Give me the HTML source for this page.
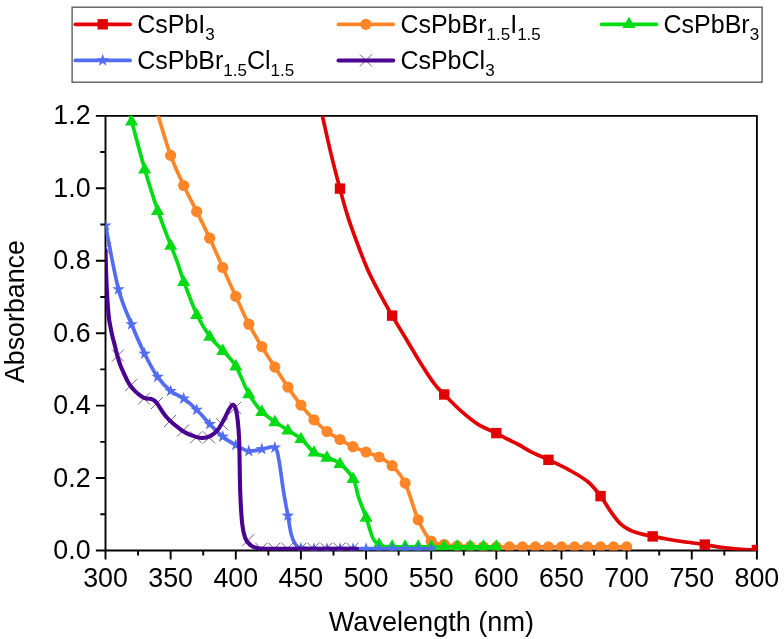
<!DOCTYPE html>
<html><head><meta charset="utf-8"><title>Absorbance</title>
<style>
html,body{margin:0;padding:0;background:#fff;}
body{width:784px;height:639px;overflow:hidden;}
svg{display:block;will-change:transform;}
text{font-family:"Liberation Sans",sans-serif;fill:#000;}
.tk{font-size:26.8px;}
.lg{font-size:25px;}
.sub{font-size:17px;}
</style></head><body>
<svg width="784" height="639" viewBox="0 0 784 639">
<rect x="0" y="0" width="784" height="639" fill="#fff"/>
<defs><clipPath id="cp"><rect x="105.50" y="115.85" width="651.40" height="434.65"/></clipPath></defs>

<g stroke="#000" stroke-width="1.9" fill="none" stroke-linejoin="round" stroke-linecap="butt">
<path d="M105.50,115.85 L756.90,115.85 L756.90,550.50 L105.50,550.50 Z"/>
<path d="M105.50,550.50 v9.00 M138.07,550.50 v5.00 M170.64,550.50 v9.00 M203.21,550.50 v5.00 M235.78,550.50 v9.00 M268.35,550.50 v5.00 M300.92,550.50 v9.00 M333.49,550.50 v5.00 M366.06,550.50 v9.00 M398.63,550.50 v5.00 M431.20,550.50 v9.00 M463.77,550.50 v5.00 M496.34,550.50 v9.00 M528.91,550.50 v5.00 M561.48,550.50 v9.00 M594.05,550.50 v5.00 M626.62,550.50 v9.00 M659.19,550.50 v5.00 M691.76,550.50 v9.00 M724.33,550.50 v5.00 M756.90,550.50 v9.00 M105.50,550.50 h-9.60 M105.50,514.28 h-5.20 M105.50,478.06 h-9.60 M105.50,441.84 h-5.20 M105.50,405.62 h-9.60 M105.50,369.40 h-5.20 M105.50,333.18 h-9.60 M105.50,296.95 h-5.20 M105.50,260.73 h-9.60 M105.50,224.51 h-5.20 M105.50,188.29 h-9.60 M105.50,152.07 h-5.20 M105.50,115.85 h-9.60"/>
</g>

<g clip-path="url(#cp)"><path d="M318.00,96.00 C318.73,99.31 320.30,106.50 322.40,115.85 C324.50,125.20 327.68,139.97 330.60,152.10 C333.52,164.22 337.13,178.18 339.90,188.60 C342.67,199.02 344.42,205.78 347.20,214.60 C349.98,223.42 353.20,232.37 356.60,241.50 C360.00,250.63 363.98,261.18 367.60,269.40 C371.22,277.62 374.22,283.10 378.30,290.80 C382.38,298.50 387.43,307.52 392.10,315.60 C396.77,323.68 401.38,331.10 406.30,339.30 C411.22,347.50 416.92,357.37 421.60,364.80 C426.28,372.23 430.63,378.95 434.40,383.90 C438.17,388.85 439.83,390.05 444.20,394.50 C448.57,398.95 454.88,405.58 460.60,410.60 C466.32,415.62 472.55,420.85 478.50,424.60 C484.45,428.35 491.33,430.62 496.30,433.10 C501.27,435.58 504.47,437.52 508.30,439.50 C512.13,441.48 515.58,442.98 519.30,445.00 C523.02,447.02 525.75,449.13 530.60,451.60 C535.45,454.07 541.78,456.63 548.40,459.80 C555.02,462.97 563.67,466.90 570.30,470.60 C576.93,474.30 583.15,477.75 588.20,482.00 C593.25,486.25 596.87,491.20 600.60,496.10 C604.33,501.00 607.23,506.72 610.60,511.40 C613.97,516.08 617.40,521.00 620.80,524.20 C624.20,527.40 627.60,528.98 631.00,530.60 C634.40,532.22 637.58,532.93 641.20,533.90 C644.82,534.87 648.45,535.55 652.70,536.40 C656.95,537.25 661.82,538.15 666.70,539.00 C671.58,539.85 677.75,540.87 682.00,541.50 C686.25,542.13 688.40,542.28 692.20,542.80 C696.00,543.32 700.53,543.92 704.80,544.60 C709.07,545.28 713.10,546.22 717.80,546.90 C722.50,547.58 728.47,548.27 733.00,548.70 C737.53,549.13 741.02,549.30 745.00,549.50 C748.98,549.70 754.92,549.83 756.90,549.90" fill="none" stroke="#e10004" stroke-width="3.7" stroke-linejoin="round" stroke-linecap="round"/><g fill="#e10004"><rect x="334.80" y="183.40" width="10.40" height="10.40"/><rect x="386.92" y="310.40" width="10.40" height="10.40"/><rect x="439.03" y="389.30" width="10.40" height="10.40"/><rect x="491.14" y="427.90" width="10.40" height="10.40"/><rect x="543.25" y="454.60" width="10.40" height="10.40"/><rect x="595.36" y="490.90" width="10.40" height="10.40"/><rect x="647.48" y="531.20" width="10.40" height="10.40"/><rect x="699.59" y="539.40" width="10.40" height="10.40"/><rect x="751.70" y="544.80" width="10.40" height="10.40"/></g></g>

<g clip-path="url(#cp)"><path d="M152.00,95.00 C153.03,98.47 155.09,105.78 158.20,115.85 C161.31,125.92 166.40,143.79 170.64,155.40 C174.88,167.01 179.33,176.15 183.67,185.50 C188.01,194.85 192.35,202.72 196.70,211.50 C201.04,220.28 205.38,228.87 209.72,238.20 C214.07,247.53 218.41,257.80 222.75,267.50 C227.09,277.20 231.44,286.95 235.78,296.40 C240.12,305.85 244.47,315.82 248.81,324.20 C253.15,332.58 257.49,339.55 261.84,346.70 C266.18,353.85 270.52,360.37 274.86,367.10 C279.21,373.83 283.55,380.77 287.89,387.10 C292.23,393.43 296.58,399.65 300.92,405.10 C305.26,410.55 309.61,415.40 313.95,419.80 C318.29,424.20 322.63,428.22 326.98,431.50 C331.32,434.78 335.66,436.97 340.00,439.50 C344.35,442.03 348.69,444.62 353.03,446.70 C357.37,448.78 361.72,450.28 366.06,452.00 C370.40,453.72 374.75,454.72 379.09,457.00 C383.43,459.28 387.77,461.35 392.12,465.70 C396.46,470.05 400.80,474.08 405.14,483.10 C409.49,492.12 413.83,510.12 418.17,519.80 C422.51,529.48 426.86,537.08 431.20,541.20 C435.54,545.32 439.89,543.72 444.23,544.50 C448.57,545.28 452.91,545.58 457.26,545.90 C461.60,546.22 465.94,546.25 470.28,546.40 C474.63,546.55 478.97,546.72 483.31,546.80 C487.65,546.88 492.00,546.88 496.34,546.90 C500.68,546.92 505.03,546.90 509.37,546.90 C513.71,546.90 518.05,546.90 522.40,546.90 C526.74,546.90 531.08,546.90 535.42,546.90 C539.77,546.90 544.11,546.90 548.45,546.90 C552.79,546.90 557.14,546.90 561.48,546.90 C565.82,546.90 570.17,546.90 574.51,546.90 C578.85,546.90 583.19,546.90 587.54,546.90 C591.88,546.90 596.22,546.90 600.56,546.90 C604.91,546.90 609.25,546.90 613.59,546.90 C617.93,546.90 624.45,546.90 626.62,546.90" fill="none" stroke="#ff8628" stroke-width="3.7" stroke-linejoin="round" stroke-linecap="round"/><g fill="#ff8628"><circle cx="170.64" cy="155.40" r="5.60"/><circle cx="183.67" cy="185.50" r="5.60"/><circle cx="196.70" cy="211.50" r="5.60"/><circle cx="209.72" cy="238.20" r="5.60"/><circle cx="222.75" cy="267.50" r="5.60"/><circle cx="235.78" cy="296.40" r="5.60"/><circle cx="248.81" cy="324.20" r="5.60"/><circle cx="261.84" cy="346.70" r="5.60"/><circle cx="274.86" cy="367.10" r="5.60"/><circle cx="287.89" cy="387.10" r="5.60"/><circle cx="300.92" cy="405.10" r="5.60"/><circle cx="313.95" cy="419.80" r="5.60"/><circle cx="326.98" cy="431.50" r="5.60"/><circle cx="340.00" cy="439.50" r="5.60"/><circle cx="353.03" cy="446.70" r="5.60"/><circle cx="366.06" cy="452.00" r="5.60"/><circle cx="379.09" cy="457.00" r="5.60"/><circle cx="392.12" cy="465.70" r="5.60"/><circle cx="405.14" cy="483.10" r="5.60"/><circle cx="418.17" cy="519.80" r="5.60"/><circle cx="431.20" cy="541.20" r="5.60"/><circle cx="444.23" cy="544.50" r="5.60"/><circle cx="457.26" cy="545.90" r="5.60"/><circle cx="470.28" cy="546.40" r="5.60"/><circle cx="483.31" cy="546.80" r="5.60"/><circle cx="496.34" cy="546.90" r="5.60"/><circle cx="509.37" cy="546.90" r="5.60"/><circle cx="522.40" cy="546.90" r="5.60"/><circle cx="535.42" cy="546.90" r="5.60"/><circle cx="548.45" cy="546.90" r="5.60"/><circle cx="561.48" cy="546.90" r="5.60"/><circle cx="574.51" cy="546.90" r="5.60"/><circle cx="587.54" cy="546.90" r="5.60"/><circle cx="600.56" cy="546.90" r="5.60"/><circle cx="613.59" cy="546.90" r="5.60"/><circle cx="626.62" cy="546.90" r="5.60"/></g></g>

<g clip-path="url(#cp)"><path d="M126.00,97.00 C126.72,100.14 129.37,111.90 130.30,115.85 C131.23,119.80 129.18,111.89 131.56,120.70 C133.94,129.51 140.24,153.78 144.58,168.70 C148.93,183.62 153.27,197.48 157.61,210.20 C161.95,222.92 167.33,236.25 170.64,245.00 C173.95,253.75 175.33,256.68 177.50,262.70 C179.67,268.72 180.47,272.50 183.67,281.10 C186.87,289.70 192.35,305.08 196.70,314.30 C201.04,323.52 205.38,330.37 209.72,336.40 C214.07,342.43 218.41,345.55 222.75,350.50 C227.09,355.45 231.44,358.87 235.78,366.10 C240.12,373.33 244.47,386.32 248.81,393.90 C253.15,401.48 257.49,406.95 261.84,411.60 C266.18,416.25 270.52,418.70 274.86,421.80 C279.21,424.90 283.55,427.38 287.89,430.20 C292.23,433.02 296.58,435.03 300.92,438.70 C305.26,442.37 309.61,449.10 313.95,452.20 C318.29,455.30 322.63,455.38 326.98,457.30 C331.32,459.22 335.66,460.15 340.00,463.70 C344.35,467.25 349.93,473.00 353.03,478.60 C356.13,484.20 356.43,490.85 358.60,497.30 C360.77,503.75 363.68,510.48 366.06,517.30 C368.44,524.12 370.73,533.62 372.90,538.20 C375.07,542.78 377.05,543.42 379.09,544.80 C381.12,546.18 382.93,546.17 385.10,546.50 C387.27,546.83 388.78,546.75 392.12,546.80 C395.46,546.85 400.80,546.80 405.14,546.80 C409.49,546.80 413.83,546.80 418.17,546.80 C422.51,546.80 426.86,546.80 431.20,546.80 C435.54,546.80 439.89,546.80 444.23,546.80 C448.57,546.80 452.91,546.80 457.26,546.80 C461.60,546.80 465.94,546.80 470.28,546.80 C474.63,546.80 478.97,546.80 483.31,546.80 C487.65,546.80 494.17,546.80 496.34,546.80" fill="none" stroke="#00dc14" stroke-width="3.7" stroke-linejoin="round" stroke-linecap="round"/><g fill="#00dc14"><polygon points="131.56,114.10 124.97,125.50 138.14,125.50"/><polygon points="144.58,162.10 138.00,173.50 151.17,173.50"/><polygon points="157.61,203.60 151.03,215.00 164.19,215.00"/><polygon points="170.64,238.40 164.06,249.80 177.22,249.80"/><polygon points="183.67,274.50 177.09,285.90 190.25,285.90"/><polygon points="196.70,307.70 190.11,319.10 203.28,319.10"/><polygon points="209.72,329.40 203.14,340.80 216.31,340.80"/><polygon points="222.75,343.50 216.17,354.90 229.33,354.90"/><polygon points="235.78,359.10 229.20,370.50 242.36,370.50"/><polygon points="248.81,386.90 242.23,398.30 255.39,398.30"/><polygon points="261.84,404.60 255.25,416.00 268.42,416.00"/><polygon points="274.86,414.80 268.28,426.20 281.45,426.20"/><polygon points="287.89,423.20 281.31,434.60 294.47,434.60"/><polygon points="300.92,431.70 294.34,443.10 307.50,443.10"/><polygon points="313.95,445.20 307.37,456.60 320.53,456.60"/><polygon points="326.98,450.30 320.39,461.70 333.56,461.70"/><polygon points="340.00,456.70 333.42,468.10 346.59,468.10"/><polygon points="353.03,471.60 346.45,483.00 359.61,483.00"/><polygon points="366.06,510.30 359.48,521.70 372.64,521.70"/><polygon points="379.09,537.20 372.51,548.60 385.67,548.60"/><polygon points="392.12,539.20 385.53,550.60 398.70,550.60"/><polygon points="405.14,539.20 398.56,550.60 411.73,550.60"/><polygon points="418.17,539.20 411.59,550.60 424.75,550.60"/><polygon points="431.20,539.20 424.62,550.60 437.78,550.60"/><polygon points="444.23,539.20 437.65,550.60 450.81,550.60"/><polygon points="457.26,539.20 450.67,550.60 463.84,550.60"/><polygon points="470.28,539.20 463.70,550.60 476.87,550.60"/><polygon points="483.31,539.20 476.73,550.60 489.89,550.60"/><polygon points="496.34,539.20 489.76,550.60 502.92,550.60"/></g></g>

<g clip-path="url(#cp)"><path d="M105.50,225.50 C107.67,236.13 114.19,272.83 118.53,289.30 C122.87,305.77 127.21,313.57 131.56,324.30 C135.90,335.03 140.24,344.93 144.58,353.70 C148.93,362.47 153.27,370.68 157.61,376.90 C161.95,383.12 166.30,387.38 170.64,391.00 C174.98,394.62 179.33,395.47 183.67,398.60 C188.01,401.73 192.35,405.55 196.70,409.80 C201.04,414.05 205.38,419.62 209.72,424.10 C214.07,428.58 218.41,433.22 222.75,436.70 C227.09,440.18 231.44,442.60 235.78,445.00 C240.12,447.40 244.47,450.40 248.81,451.10 C253.15,451.80 257.49,449.78 261.84,449.20 C266.18,448.62 272.00,445.70 274.86,447.60 C277.72,449.50 277.56,453.33 279.00,460.60 C280.44,467.87 282.02,482.02 283.50,491.20 C284.98,500.38 286.61,508.55 287.89,515.70 C289.18,522.85 289.97,529.33 291.20,534.10 C292.43,538.87 293.68,541.93 295.30,544.30 C296.92,546.67 297.81,547.55 300.92,548.30 C304.03,549.05 309.61,548.72 313.95,548.80 C318.29,548.88 322.63,548.80 326.98,548.80 C331.32,548.80 335.66,548.80 340.00,548.80 C344.35,548.80 348.69,548.80 353.03,548.80 C357.37,548.80 361.72,548.80 366.06,548.80 C370.40,548.80 374.75,548.80 379.09,548.80 C383.43,548.80 387.77,548.80 392.12,548.80 C396.46,548.80 400.80,548.80 405.14,548.80 C409.49,548.80 413.83,548.80 418.17,548.80 C422.51,548.80 429.03,548.80 431.20,548.80" fill="none" stroke="#526df1" stroke-width="3.7" stroke-linejoin="round" stroke-linecap="round"/><g fill="#526df1"><polygon points="105.50,218.90 107.03,223.40 111.78,223.46 107.97,226.30 109.38,230.84 105.50,228.10 101.62,230.84 103.03,226.30 99.22,223.46 103.97,223.40"/><polygon points="118.53,282.70 120.06,287.20 124.80,287.26 121.00,290.10 122.41,294.64 118.53,291.90 114.65,294.64 116.06,290.10 112.25,287.26 117.00,287.20"/><polygon points="131.56,317.70 133.08,322.20 137.83,322.26 134.03,325.10 135.44,329.64 131.56,326.90 127.68,329.64 129.08,325.10 125.28,322.26 130.03,322.20"/><polygon points="144.58,347.10 146.11,351.60 150.86,351.66 147.06,354.50 148.46,359.04 144.58,356.30 140.70,359.04 142.11,354.50 138.31,351.66 143.06,351.60"/><polygon points="157.61,370.30 159.14,374.80 163.89,374.86 160.08,377.70 161.49,382.24 157.61,379.50 153.73,382.24 155.14,377.70 151.34,374.86 156.08,374.80"/><polygon points="170.64,384.40 172.17,388.90 176.92,388.96 173.11,391.80 174.52,396.34 170.64,393.60 166.76,396.34 168.17,391.80 164.36,388.96 169.11,388.90"/><polygon points="183.67,392.00 185.20,396.50 189.94,396.56 186.14,399.40 187.55,403.94 183.67,401.20 179.79,403.94 181.20,399.40 177.39,396.56 182.14,396.50"/><polygon points="196.70,403.20 198.22,407.70 202.97,407.76 199.17,410.60 200.58,415.14 196.70,412.40 192.82,415.14 194.22,410.60 190.42,407.76 195.17,407.70"/><polygon points="209.72,417.50 211.25,422.00 216.00,422.06 212.20,424.90 213.60,429.44 209.72,426.70 205.84,429.44 207.25,424.90 203.45,422.06 208.20,422.00"/><polygon points="222.75,430.10 224.28,434.60 229.03,434.66 225.22,437.50 226.63,442.04 222.75,439.30 218.87,442.04 220.28,437.50 216.48,434.66 221.22,434.60"/><polygon points="235.78,438.40 237.31,442.90 242.06,442.96 238.25,445.80 239.66,450.34 235.78,447.60 231.90,450.34 233.31,445.80 229.50,442.96 234.25,442.90"/><polygon points="248.81,444.50 250.34,449.00 255.08,449.06 251.28,451.90 252.69,456.44 248.81,453.70 244.93,456.44 246.34,451.90 242.53,449.06 247.28,449.00"/><polygon points="261.84,442.60 263.36,447.10 268.11,447.16 264.31,450.00 265.72,454.54 261.84,451.80 257.96,454.54 259.36,450.00 255.56,447.16 260.31,447.10"/><polygon points="274.86,441.00 276.39,445.50 281.14,445.56 277.34,448.40 278.74,452.94 274.86,450.20 270.98,452.94 272.39,448.40 268.59,445.56 273.34,445.50"/><polygon points="287.89,509.10 289.42,513.60 294.17,513.66 290.36,516.50 291.77,521.04 287.89,518.30 284.01,521.04 285.42,516.50 281.62,513.66 286.36,513.60"/><polygon points="300.92,541.70 302.45,546.20 307.20,546.26 303.39,549.10 304.80,553.64 300.92,550.90 297.04,553.64 298.45,549.10 294.64,546.26 299.39,546.20"/><polygon points="313.95,542.20 315.48,546.70 320.22,546.76 316.42,549.60 317.83,554.14 313.95,551.40 310.07,554.14 311.48,549.60 307.67,546.76 312.42,546.70"/><polygon points="326.98,542.20 328.50,546.70 333.25,546.76 329.45,549.60 330.86,554.14 326.98,551.40 323.10,554.14 324.50,549.60 320.70,546.76 325.45,546.70"/><polygon points="340.00,542.20 341.53,546.70 346.28,546.76 342.48,549.60 343.88,554.14 340.00,551.40 336.12,554.14 337.53,549.60 333.73,546.76 338.48,546.70"/><polygon points="353.03,542.20 354.56,546.70 359.31,546.76 355.50,549.60 356.91,554.14 353.03,551.40 349.15,554.14 350.56,549.60 346.76,546.76 351.50,546.70"/><polygon points="366.06,542.20 367.59,546.70 372.34,546.76 368.53,549.60 369.94,554.14 366.06,551.40 362.18,554.14 363.59,549.60 359.78,546.76 364.53,546.70"/><polygon points="379.09,542.20 380.62,546.70 385.36,546.76 381.56,549.60 382.97,554.14 379.09,551.40 375.21,554.14 376.62,549.60 372.81,546.76 377.56,546.70"/><polygon points="392.12,542.20 393.64,546.70 398.39,546.76 394.59,549.60 396.00,554.14 392.12,551.40 388.24,554.14 389.64,549.60 385.84,546.76 390.59,546.70"/><polygon points="405.14,542.20 406.67,546.70 411.42,546.76 407.62,549.60 409.02,554.14 405.14,551.40 401.26,554.14 402.67,549.60 398.87,546.76 403.62,546.70"/><polygon points="418.17,542.20 419.70,546.70 424.45,546.76 420.64,549.60 422.05,554.14 418.17,551.40 414.29,554.14 415.70,549.60 411.90,546.76 416.64,546.70"/><polygon points="431.20,542.20 432.73,546.70 437.48,546.76 433.67,549.60 435.08,554.14 431.20,551.40 427.32,554.14 428.73,549.60 424.92,546.76 429.67,546.70"/></g></g>

<g clip-path="url(#cp)"><g fill="none" stroke="#76548f" stroke-width="0.95"><path d="M98.90,242.50 L110.90,254.50 M98.90,254.50 L110.90,242.50"/><path d="M111.93,349.50 L123.93,361.50 M111.93,361.50 L123.93,349.50"/><path d="M124.96,379.20 L136.96,391.20 M124.96,391.20 L136.96,379.20"/><path d="M137.98,392.60 L149.98,404.60 M137.98,404.60 L149.98,392.60"/><path d="M151.01,397.00 L163.01,409.00 M151.01,409.00 L163.01,397.00"/><path d="M164.04,415.00 L176.04,427.00 M164.04,427.00 L176.04,415.00"/><path d="M177.07,424.50 L189.07,436.50 M177.07,436.50 L189.07,424.50"/><path d="M190.10,431.40 L202.10,443.40 M190.10,443.40 L202.10,431.40"/><path d="M203.12,431.50 L215.12,443.50 M203.12,443.50 L215.12,431.50"/><path d="M216.15,418.20 L228.15,430.20 M216.15,430.20 L228.15,418.20"/><path d="M229.18,401.90 L241.18,413.90 M229.18,413.90 L241.18,401.90"/><path d="M242.21,534.20 L254.21,546.20 M242.21,546.20 L254.21,534.20"/><path d="M255.24,542.70 L267.24,554.70 M255.24,554.70 L267.24,542.70"/><path d="M268.26,542.70 L280.26,554.70 M268.26,554.70 L280.26,542.70"/><path d="M281.29,542.70 L293.29,554.70 M281.29,554.70 L293.29,542.70"/><path d="M294.32,542.70 L306.32,554.70 M294.32,554.70 L306.32,542.70"/><path d="M307.35,542.70 L319.35,554.70 M307.35,554.70 L319.35,542.70"/><path d="M320.38,542.70 L332.38,554.70 M320.38,554.70 L332.38,542.70"/><path d="M333.40,542.70 L345.40,554.70 M333.40,554.70 L345.40,542.70"/><path d="M346.43,542.70 L358.43,554.70 M346.43,554.70 L358.43,542.70"/></g><path d="M105.50,250.00 C105.68,255.83 106.08,274.17 106.60,285.00 C107.12,295.83 107.98,308.17 108.60,315.00 C109.22,321.83 109.72,322.67 110.30,326.00 C110.88,329.33 111.37,331.83 112.10,335.00 C112.83,338.17 113.85,341.65 114.70,345.00 C115.55,348.35 116.27,351.75 117.20,355.10 C118.13,358.45 119.15,361.98 120.30,365.10 C121.45,368.22 122.63,370.67 124.10,373.80 C125.57,376.93 127.23,380.97 129.10,383.90 C130.97,386.83 133.22,389.32 135.30,391.40 C137.38,393.48 139.72,395.20 141.60,396.40 C143.48,397.60 145.03,398.17 146.60,398.60 C148.17,399.03 149.63,398.63 151.00,399.00 C152.37,399.37 153.65,399.87 154.80,400.80 C155.95,401.73 156.77,403.00 157.90,404.60 C159.03,406.20 160.25,408.42 161.60,410.40 C162.95,412.38 164.37,414.57 166.00,416.50 C167.63,418.43 168.80,419.72 171.40,422.00 C174.00,424.28 178.47,428.05 181.60,430.20 C184.73,432.35 186.82,433.60 190.20,434.90 C193.58,436.20 198.50,437.83 201.90,438.00 C205.30,438.17 207.95,437.27 210.60,435.90 C213.25,434.53 215.58,432.52 217.80,429.80 C220.02,427.08 222.03,423.00 223.90,419.60 C225.77,416.20 227.55,411.87 229.00,409.40 C230.45,406.93 231.50,404.97 232.60,404.80 C233.70,404.63 234.75,405.77 235.60,408.40 C236.45,411.03 237.10,415.17 237.70,420.60 C238.30,426.03 238.78,429.23 239.20,441.00 C239.62,452.77 239.70,477.38 240.20,491.20 C240.70,505.02 241.35,516.07 242.20,523.90 C243.05,531.73 243.93,534.63 245.30,538.20 C246.67,541.77 248.53,543.70 250.40,545.30 C252.27,546.90 253.23,547.23 256.50,547.80 C259.77,548.37 253.28,548.55 270.00,548.70 C286.72,548.85 342.33,548.70 356.80,548.70" fill="none" stroke="#4a0090" stroke-width="4.1" stroke-linejoin="round" stroke-linecap="round"/></g>

<text class="tk" x="105.50" y="587.2" text-anchor="middle">300</text>
<text class="tk" x="170.64" y="587.2" text-anchor="middle">350</text>
<text class="tk" x="235.78" y="587.2" text-anchor="middle">400</text>
<text class="tk" x="300.92" y="587.2" text-anchor="middle">450</text>
<text class="tk" x="366.06" y="587.2" text-anchor="middle">500</text>
<text class="tk" x="431.20" y="587.2" text-anchor="middle">550</text>
<text class="tk" x="496.34" y="587.2" text-anchor="middle">600</text>
<text class="tk" x="561.48" y="587.2" text-anchor="middle">650</text>
<text class="tk" x="626.62" y="587.2" text-anchor="middle">700</text>
<text class="tk" x="691.76" y="587.2" text-anchor="middle">750</text>
<text class="tk" x="756.90" y="587.2" text-anchor="middle">800</text>
<text class="tk" x="90.6" y="559.00" text-anchor="end">0.0</text>
<text class="tk" x="90.6" y="486.56" text-anchor="end">0.2</text>
<text class="tk" x="90.6" y="414.12" text-anchor="end">0.4</text>
<text class="tk" x="90.6" y="341.68" text-anchor="end">0.6</text>
<text class="tk" x="90.6" y="269.23" text-anchor="end">0.8</text>
<text class="tk" x="90.6" y="196.79" text-anchor="end">1.0</text>
<text class="tk" x="90.6" y="124.35" text-anchor="end">1.2</text>
<text class="tk" style="font-size:27.1px" x="431.4" y="631.2" text-anchor="middle">Wavelength (nm)</text>
<text class="tk" transform="translate(23.7,311.6) rotate(-90)" text-anchor="middle">Absorbance</text>
<rect x="72.1" y="7.2" width="690" height="75" fill="#fff" stroke="#5c5c5c" stroke-width="1.4"/>
<path d="M75.30,24.30 h54.8" stroke="#e10004" stroke-width="3.7" stroke-linecap="round" fill="none"/><g fill="#e10004"><rect x="97.50" y="19.10" width="10.40" height="10.40"/></g>
<text class="lg" x="137.20" y="32.70"><tspan>CsPbI</tspan><tspan class="sub" dy="7">3</tspan><tspan dy="-7">&#8203;</tspan></text>
<path d="M338.50,24.30 h54.8" stroke="#ff8628" stroke-width="3.7" stroke-linecap="round" fill="none"/><g fill="#ff8628"><circle cx="365.90" cy="24.30" r="5.60"/></g>
<text class="lg" x="400.40" y="32.70"><tspan>CsPbBr</tspan><tspan class="sub" dy="7">1.5</tspan><tspan dy="-7">&#8203;</tspan><tspan>I</tspan><tspan class="sub" dy="7">1.5</tspan><tspan dy="-7">&#8203;</tspan></text>
<path d="M601.60,24.30 h54.8" stroke="#00dc14" stroke-width="3.7" stroke-linecap="round" fill="none"/><g fill="#00dc14"><polygon points="629.00,16.70 622.42,28.10 635.58,28.10"/></g>
<text class="lg" x="663.50" y="32.70"><tspan>CsPbBr</tspan><tspan class="sub" dy="7">3</tspan><tspan dy="-7">&#8203;</tspan></text>
<path d="M75.30,60.40 h54.8" stroke="#526df1" stroke-width="3.7" stroke-linecap="round" fill="none"/><g fill="#526df1"><polygon points="102.70,53.80 104.23,58.30 108.98,58.36 105.17,61.20 106.58,65.74 102.70,63.00 98.82,65.74 100.23,61.20 96.42,58.36 101.17,58.30"/></g>
<text class="lg" x="137.20" y="68.80"><tspan>CsPbBr</tspan><tspan class="sub" dy="7">1.5</tspan><tspan dy="-7">&#8203;</tspan><tspan>Cl</tspan><tspan class="sub" dy="7">1.5</tspan><tspan dy="-7">&#8203;</tspan></text>
<g fill="none" stroke="#76548f" stroke-width="0.95"><path d="M359.90,54.40 L371.90,66.40 M359.90,66.40 L371.90,54.40"/></g><path d="M338.50,60.40 h54.8" stroke="#4a0090" stroke-width="4.0" stroke-linecap="round" fill="none"/>
<text class="lg" x="400.40" y="68.80"><tspan>CsPbCl</tspan><tspan class="sub" dy="7">3</tspan><tspan dy="-7">&#8203;</tspan></text>
</svg></body></html>
